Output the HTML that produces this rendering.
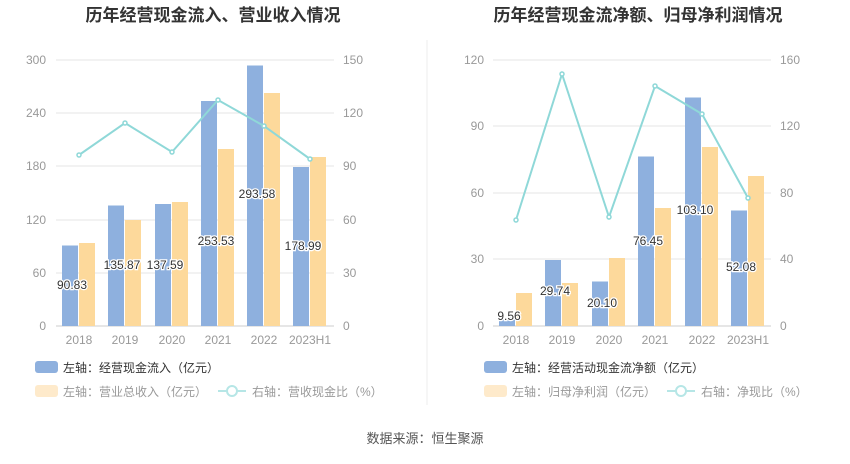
<!DOCTYPE html>
<html><head><meta charset="utf-8"><style>
body{margin:0;background:#fff}
svg text{font-family:"Liberation Sans","Noto Sans CJK SC",sans-serif}
</style></head><body>
<svg width="850" height="459" xmlns="http://www.w3.org/2000/svg">
<rect width="850" height="459" fill="#fff"/>
<line x1="427" y1="40" x2="427" y2="405" stroke="#eee"/>
<text x="213" y="21" font-size="17" font-weight="bold" text-anchor="middle" fill="#333">历年经营现金流入、营业收入情况</text>
<text x="638" y="21" font-size="17" font-weight="bold" text-anchor="middle" fill="#333">历年经营现金流净额、归母净利润情况</text>
<g stroke="#e6e6e6">
<line x1="56" y1="60" x2="334" y2="60"/><line x1="56" y1="113" x2="334" y2="113"/><line x1="56" y1="166" x2="334" y2="166"/><line x1="56" y1="220" x2="334" y2="220"/><line x1="56" y1="273" x2="334" y2="273"/>
<line x1="493" y1="60" x2="771" y2="60"/><line x1="493" y1="126" x2="771" y2="126"/><line x1="493" y1="193" x2="771" y2="193"/><line x1="493" y1="259" x2="771" y2="259"/>
</g>
<line x1="56" y1="326" x2="334" y2="326" stroke="#ccc"/>
<line x1="493" y1="326" x2="771" y2="326" stroke="#ccc"/>
<g font-size="12" fill="#999" text-anchor="end">
<text x="46" y="64">300</text><text x="46" y="117">240</text><text x="46" y="170">180</text><text x="46" y="224">120</text><text x="46" y="277">60</text><text x="46" y="330">0</text>
<text x="484" y="64">120</text><text x="484" y="130">90</text><text x="484" y="197">60</text><text x="484" y="263">30</text><text x="484" y="330">0</text>
</g>
<g font-size="12" fill="#999" text-anchor="start">
<text x="343" y="64">150</text><text x="343" y="117">120</text><text x="343" y="170">90</text><text x="343" y="224">60</text><text x="343" y="277">30</text><text x="343" y="330">0</text>
<text x="780" y="64">160</text><text x="780" y="130">120</text><text x="780" y="197">80</text><text x="780" y="263">40</text><text x="780" y="330">0</text>
</g>
<g font-size="12" fill="#999" text-anchor="middle">
<text x="79" y="344">2018</text><text x="125" y="344">2019</text><text x="172" y="344">2020</text><text x="218" y="344">2021</text><text x="264" y="344">2022</text><text x="310" y="344">2023H1</text>
<text x="516" y="344">2018</text><text x="562" y="344">2019</text><text x="609" y="344">2020</text><text x="655" y="344">2021</text><text x="702" y="344">2022</text><text x="748" y="344">2023H1</text>
</g>
<g fill="#8eb0de">
<rect x="62" y="245.5" width="16" height="80.5"/><rect x="108" y="205.5" width="16" height="120.5"/><rect x="155" y="204" width="16" height="122"/><rect x="201" y="101" width="16" height="225"/><rect x="247" y="65.5" width="16" height="260.5"/><rect x="293" y="167" width="16" height="159"/>
<rect x="499" y="317.5" width="16" height="8.5"/><rect x="545" y="260" width="16" height="66"/><rect x="592" y="281.5" width="16" height="44.5"/><rect x="638" y="156.5" width="16" height="169.5"/><rect x="685" y="97.5" width="16" height="228.5"/><rect x="731" y="210.5" width="16" height="115.5"/>
</g>
<g fill="#fdd99b">
<rect x="79" y="243" width="16" height="83"/><rect x="125" y="220" width="16" height="106"/><rect x="172" y="202" width="16" height="124"/><rect x="218" y="149" width="16" height="177"/><rect x="264" y="93" width="16" height="233"/><rect x="310" y="157" width="16" height="169"/>
<rect x="516" y="293" width="16" height="33"/><rect x="562" y="283" width="16" height="43"/><rect x="609" y="258" width="16" height="68"/><rect x="655" y="208" width="16" height="118"/><rect x="702" y="147" width="16" height="179"/><rect x="748" y="176" width="16" height="150"/>
</g>
<g fill="none" stroke="#8fd8d8" stroke-width="2">
<polyline points="79,155 125,123 172,152 218,100 264,126 310,159"/>
<polyline points="516,220 562,74 609,217 655,86 702,114 748,198"/>
</g>
<g fill="#fff" stroke="#8fd8d8" stroke-width="1.5">
<circle cx="79" cy="155" r="2"/><circle cx="125" cy="123" r="2"/><circle cx="172" cy="152" r="2"/><circle cx="218" cy="100" r="2"/><circle cx="264" cy="126" r="2"/><circle cx="310" cy="159" r="2"/>
<circle cx="516" cy="220" r="2"/><circle cx="562" cy="74" r="2"/><circle cx="609" cy="217" r="2"/><circle cx="655" cy="86" r="2"/><circle cx="702" cy="114" r="2"/><circle cx="748" cy="198" r="2"/>
</g>
<g font-size="12" fill="#333" text-anchor="middle" stroke="#fff" stroke-width="2.5" paint-order="stroke">
<text x="72" y="289">90.83</text><text x="122" y="269">135.87</text><text x="165" y="269">137.59</text><text x="216" y="245">253.53</text><text x="257" y="198">293.58</text><text x="303" y="250">178.99</text>
<text x="509" y="320">9.56</text><text x="555" y="295">29.74</text><text x="602" y="307">20.10</text><text x="648" y="245">76.45</text><text x="695" y="214">103.10</text><text x="741" y="271">52.08</text>
</g>
<g font-size="12">
<rect x="35" y="361" width="23" height="12" rx="3" fill="#8eb0de"/>
<text x="63" y="372" fill="#333">左轴：经营现金流入（亿元）</text>
<rect x="35" y="385" width="23" height="12" rx="3" fill="#feeacb"/>
<text x="63" y="396" fill="#999">左轴：营业总收入（亿元）</text>
<line x1="218" y1="391" x2="246" y2="391" stroke="#b6e6e6" stroke-width="2"/><circle cx="232" cy="391" r="5" fill="#fff" stroke="#b6e6e6" stroke-width="2"/>
<text x="252" y="396" fill="#999">右轴：营收现金比（%）</text>
<rect x="484" y="361" width="23" height="12" rx="3" fill="#8eb0de"/>
<text x="512" y="372" fill="#333">左轴：经营活动现金流净额（亿元）</text>
<rect x="484" y="385" width="23" height="12" rx="3" fill="#feeacb"/>
<text x="512" y="396" fill="#999">左轴：归母净利润（亿元）</text>
<line x1="667" y1="391" x2="695" y2="391" stroke="#b6e6e6" stroke-width="2"/><circle cx="681" cy="391" r="5" fill="#fff" stroke="#b6e6e6" stroke-width="2"/>
<text x="701" y="396" fill="#999">右轴：净现比（%）</text>
</g>
<text x="425" y="443" font-size="13" fill="#555" text-anchor="middle">数据来源：恒生聚源</text>
</svg>
</body></html>
